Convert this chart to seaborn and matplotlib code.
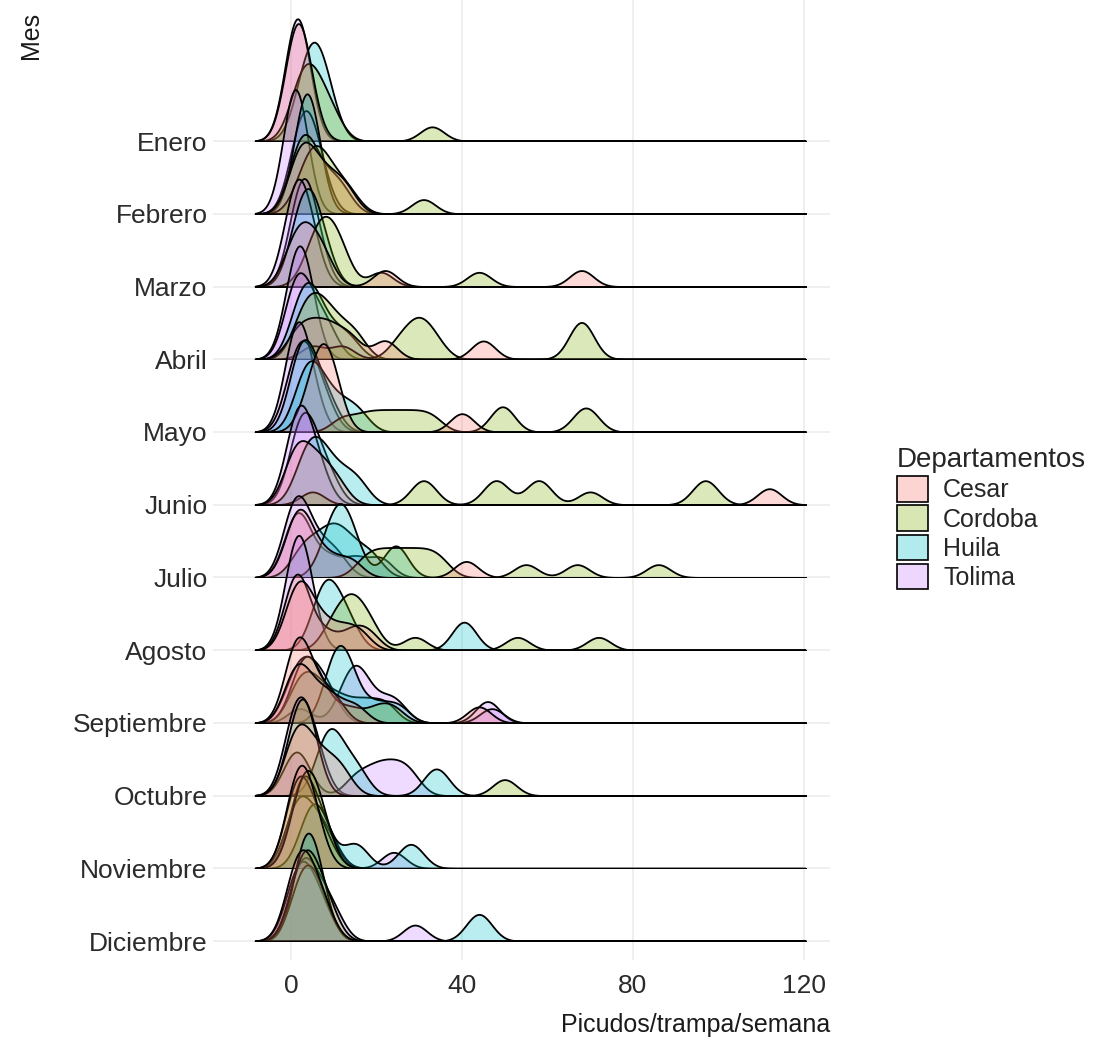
import numpy as np
import pandas as pd
import seaborn as sns
import matplotlib.pyplot as plt
from matplotlib.colors import to_rgba
from matplotlib.patches import Patch

meses = ["Enero", "Febrero", "Marzo", "Abril", "Mayo", "Junio", "Julio",
         "Agosto", "Septiembre", "Octubre", "Noviembre", "Diciembre"]
departamentos = ["Cesar", "Cordoba", "Huila", "Tolima"]
colores = ["#F8766D", "#7CAE00", "#00BFC4", "#C77CFF"]

# picudos/trampa/semana, one list per month (two series per departamento)
cesar_a = [[0, 1, 1, 2, 2, 3, 4, 1], [1, 2, 3, 5, 7, 10, 13], [0, 1, 3, 4, 6, 8, 22, 68],
           [1, 4, 7, 10, 14, 22, 45], [4, 6, 7, 8, 9, 10, 40], [0, 1, 2, 4, 6, 8, 11, 112],
           [0, 1, 2, 3, 5, 9, 14, 41], [0, 1, 2, 3, 5, 8, 12, 16], [0, 1, 2, 4, 7, 10, 15, 44],
           [0, 1, 2, 4, 6, 9, 12], [0, 1, 2, 3, 4, 6], [0, 1, 2, 3, 4, 6, 8]]
cesar_b = [[], [], [], [], [], [], [],
           [0, 1, 1, 2, 3, 8, 14, 18], [0, 1, 2, 3, 6, 10], [], [], []]
cordoba_a = [[1, 2, 3, 4, 5, 6, 8, 10, 33], [2, 4, 5, 6, 7, 9, 11, 14, 31],
             [4, 6, 7, 8, 9, 11, 12, 21, 44], [5, 12, 25, 28, 30, 31, 34, 67, 68, 69],
             [12, 17, 21, 25, 29, 33, 49, 50, 68, 70], [5, 30, 32, 47, 49, 57, 59, 70, 96, 98],
             [17, 20, 23, 26, 29, 32, 35, 55, 67, 86], [9, 11, 13, 14, 15, 17, 19, 29, 53, 72],
             [1, 2, 3, 4, 5, 6, 9, 14, 20, 24], [0, 1, 2, 3, 3, 4, 5, 50],
             [1, 2, 3, 4, 5, 6, 8], [1, 2, 3, 4, 5, 7, 9]]
cordoba_b = [[], [1, 2, 3, 4, 6, 9, 12], [], [2, 4, 6, 8, 11, 15], [], [], [], [], [],
             [], [0, 1, 2, 3, 5, 8], []]
huila_a = [[2, 3, 4, 5, 5, 6, 7, 8, 9], [2, 3, 3, 4, 4, 5, 5], [1, 2, 3, 4, 5, 6, 8],
           [1, 2, 3, 4, 5, 6, 8, 11, 14], [2, 3, 4, 5, 6, 8, 10, 13, 16],
           [2, 4, 5, 6, 8, 10, 13, 16], [8, 10, 11, 12, 13, 15, 24, 25],
           [6, 7, 8, 9, 10, 12, 14, 40, 41], [9, 10, 11, 12, 13, 15, 20, 25],
           [7, 8, 9, 10, 11, 14, 16, 33, 35], [3, 4, 5, 6, 7, 8, 14, 16, 27, 29],
           [1, 2, 3, 4, 5, 6, 8, 43, 45]]
huila_b = [[], [], [], [], [1, 2, 3, 4, 6, 9], [], [2, 5, 8, 10, 12, 15, 19], [],
           [1, 3, 5, 8, 12, 17, 22], [], [], [2, 3, 4, 5, 7]]
tolima_a = [[0, 1, 1, 2, 2, 3, 1, 2], [0, 0, 1, 1, 1, 2, 2, 1], [0, 0, 1, 2, 3, 4, 5, 1],
            [0, 1, 1, 2, 3, 5, 7, 9], [0, 1, 2, 3, 4, 6, 8], [0, 1, 2, 2, 3, 5, 7],
            [0, 0, 1, 2, 3, 5, 8, 11], [0, 1, 1, 2, 3, 4], [2, 12, 14, 15, 16, 18, 22, 25, 47],
            [0, 1, 3, 15, 19, 22, 25, 28], [0, 1, 2, 3, 5, 7, 9, 24], [0, 1, 2, 3, 4, 6, 8, 29]]
tolima_b = [[], [1, 2, 3, 4, 5, 7], [1, 2, 3, 4, 6], [0, 1, 2, 3, 4], [0, 1, 1, 2, 3, 5],
            [1, 2, 3, 4, 6, 9], [0, 1, 2, 4, 9, 15, 21], [], [0, 2, 4, 6, 9, 46],
            [0, 1, 2, 4, 6], [1, 2, 3, 4, 6, 9], [1, 2, 3, 5, 7, 10]]

series = {"Cesar": (cesar_a, cesar_b), "Cordoba": (cordoba_a, cordoba_b),
          "Huila": (huila_a, huila_b), "Tolima": (tolima_a, tolima_b)}

filas = []
for dep, (a, b) in series.items():
    for serie, listas in (("a", a), ("b", b)):
        for mes, valores in zip(meses, listas):
            for v in valores:
                filas.append({"Mes": mes, "Departamento": dep,
                              "Grupo": f"{dep} {serie}", "Valor": v})
df = pd.DataFrame(filas)

# one bandwidth for every group, like ggridges
BW = 2.8
lo = df["Valor"].min() - 3 * BW
hi = df["Valor"].max() + 3 * BW


def ancho_fijo(kde):
    return BW / np.std(kde.dataset, ddof=1)


grupos = [f"{d} {s}" for d in departamentos for s in ("a", "b")]
paleta = {g: colores[departamentos.index(g.split()[0])] for g in grupos}

sns.set_style("white")
plt.rcParams["font.family"] = ["Liberation Sans", "DejaVu Sans"]

W, H = 1114, 1047
fig = plt.figure(figsize=(W / 100, H / 100), dpi=100)

left, right, top, bottom = 213, 830, 0, 960
bg = fig.add_axes([left / W, 1 - bottom / H, (right - left) / W, (bottom - top) / H])
n = len(meses)
bg.set_xlim(-18.3, 126.2)
bg.set_ylim(-0.26, 12.94)
bg.set_xticks([0, 40, 80, 120])
bg.set_yticks(range(n))
bg.set_yticklabels(meses[::-1])
bg.tick_params(axis="both", length=0, labelsize=19, labelcolor="#2b2b2b")
bg.tick_params(axis="x", pad=10)
bg.tick_params(axis="y", pad=4)
bg.grid(True, color="#EBEBEB", lw=1.1)
for s in bg.spines.values():
    s.set_visible(False)

ALTO = 144  # px for the density range 0..0.16
for i, mes in enumerate(meses):
    pos = n - 1 - i
    disp = bg.transData.transform((0, pos))
    y0 = fig.transFigure.inverted().transform(disp)[1]
    ax = fig.add_axes([left / W, y0, (right - left) / W, ALTO / H])
    sub = df[df["Mes"] == mes]
    orden = [g for g in grupos if g in set(sub["Grupo"])]
    sns.kdeplot(data=sub, x="Valor", hue="Grupo", hue_order=orden, palette=paleta,
                fill=True, alpha=0.27, edgecolor="black", linewidth=1.3,
                bw_method=ancho_fijo, cut=60, clip=(lo, hi), common_norm=False,
                gridsize=400, legend=False, ax=ax)
    ax.set_xlim(bg.get_xlim())
    ax.set_ylim(0, 0.16)
    ax.axis("off")

fig.text(830 / W, 1 - 1025 / H, "Picudos/trampa/semana", ha="right", va="center",
         fontsize=18, color="#1a1a1a")
fig.text(31 / W, 1 - 12 / H, "Mes", rotation=90, ha="center", va="top",
         fontsize=18, color="#1a1a1a")

handles = [Patch(facecolor=to_rgba(c, 0.3), edgecolor="black", lw=1.2) for c in colores]
fig.legend(handles, departamentos, title="Departamentos", loc="upper left",
           bbox_to_anchor=(882 / W, 1 - 432 / H), frameon=False, fontsize=18,
           title_fontsize=20, handlelength=1.25, handleheight=1.2, labelspacing=0.12,
           handletextpad=0.6, alignment="left", borderaxespad=0.2)

fig.savefig("out.png", dpi=100)
